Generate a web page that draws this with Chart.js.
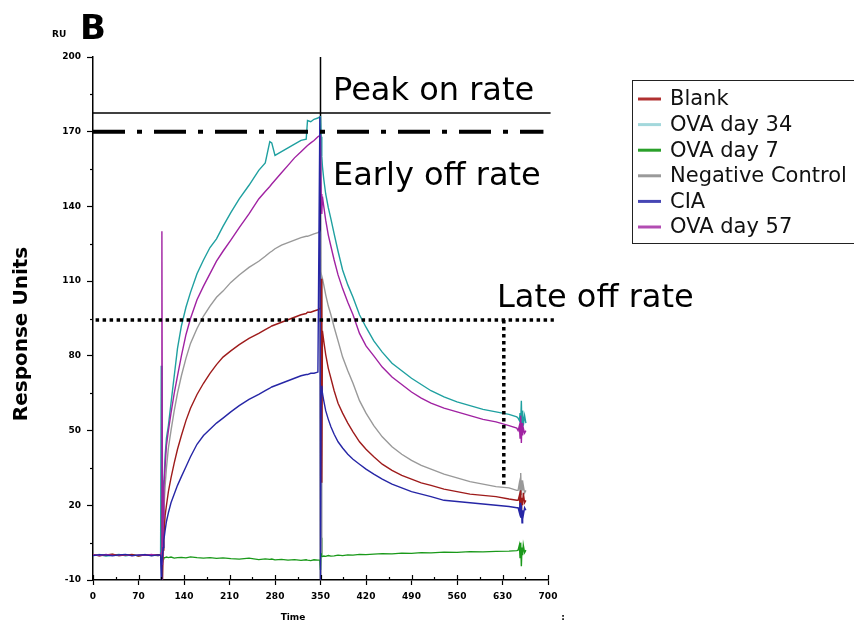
<!DOCTYPE html>
<html>
<head>
<meta charset="utf-8">
<script src="https://cdn.jsdelivr.net/npm/chart.js@4"></script>
<style>
	html, body { margin: 0; padding: 0; background: #fff; }
	canvas { display: block; }
</style>
</head>
<body>
<canvas id="spr" width="854" height="625"></canvas>
<script>
// Sensorgram data (time in s, response in RU)
var times = [
	0, 10, 20, 30, 40, 50, 60, 70, 80, 90, 100, 104,
	105, 106, 107, 108, 109, 111, 113,
	116, 120, 125, 130, 136, 143, 150, 160, 170, 180,
	190, 200, 212, 225, 240, 255, 265, 272, 275, 280,
	290, 300, 310, 320, 328, 330, 335, 340, 346, 349,
	350, 351, 352, 353, 355, 358, 362, 366, 371, 377,
	384, 392, 400, 410, 420, 432, 445, 460, 475, 490,
	505, 520, 540, 560, 580, 600, 620, 640, 652,
	654, 656, 657, 658, 659, 660, 661, 662, 664, 666
];

var blank = [
	0.2, -0.3, 0.1, 0.4, -0.2, 0, 0.3, -0.4, 0.1, -0.1, 0.2, 0,
	-1, -9, -10, 2, 8, 16, 20,
	25.5, 31, 37, 42.5, 48, 54, 59, 64.5, 69, 73,
	76.5, 79.5, 82, 84.5, 87, 89, 90.5, 91.5, 92, 92.5,
	93.5, 94.5, 95.5, 96.5, 97, 97.5, 97.5, 98, 98.5, 99,
	99, 111, 29, 90, 86, 80.5, 75, 71, 66, 61,
	57, 53, 49.5, 45.5, 42.5, 39.5, 36.5, 34, 32, 30.5,
	29, 28, 26.5, 25.5, 24.5, 24, 23.5, 22.5, 22,
	22, 24, 19, 26, 16, 23, 20, 25, 21, 22
];

var ova34 = [
	-0.2, 0.1, -0.4, 0, 0.3, -0.3, 0.1, -0.2, 0.2, -0.1, 0, 0.2,
	76, -9, 30, 8, 28, 40, 47,
	52, 61, 72, 83, 92, 99.5, 105.5, 113, 118.5, 123.5,
	127, 132, 137.5, 143, 148.5, 154.5, 157.5, 166, 165.5, 160.5,
	162, 163.5, 165, 166.5, 167, 174.5, 174, 175, 175.5, 176,
	176, 168, 160, 156, 151, 145, 139.5, 135, 129, 122,
	114.5, 108.5, 103.5, 96.5, 91.5, 86, 81.5, 77, 74, 71,
	68.5, 66, 63.5, 61.5, 60, 58.5, 57.5, 56.5, 55.5,
	55, 54, 57, 53, 62, 50, 58, 52, 56, 53
];

var ova7 = [
	0, -0.2, 0.1, 0.3, -0.1, 0, 0.2, -0.3, 0.1, 0, -0.2, 0,
	0, 22, -3, -1.5, -1, -1, -0.8,
	-1, -0.8, -1.2, -1, -0.9, -1.1, -0.7, -1, -1.2, -1,
	-1.3, -1.1, -1.4, -1.6, -1.2, -1.8, -1.5, -1.7, -1.6, -1.9,
	-1.7, -2, -1.8, -2.1, -1.9, -2, -2.2, -1.9, -2, -2,
	-6, 7, -0.5, -0.6, -0.4, -0.5, -0.2, -0.4, -0.3, 0,
	-0.2, 0.1, 0, 0.3, 0.2, 0.4, 0.6, 0.5, 0.8, 0.7,
	1, 0.9, 1.2, 1.1, 1.4, 1.3, 1.5, 1.6, 1.8,
	2, 4, -1, 5, -4.5, 3, 0, 4, 1, 2
];

var negControl = [
	0, 0.3, -0.2, 0.1, -0.3, 0.2, 0, -0.1, 0.3, -0.2, 0.1, 0,
	0, -6, 4, 10, 18, 28, 35,
	43, 50, 58, 65, 72, 79, 85, 91, 96, 100,
	103.5, 106, 109.5, 112.5, 115.5, 118, 120, 121.5, 122, 123,
	124.5, 125.5, 126.5, 127.5, 128, 128, 128.5, 129, 129.5, 130,
	129, 1, 112, 111, 108.5, 104.5, 100, 96.5, 91.5, 86,
	79.5, 74, 69, 62, 57, 52, 47.5, 43.5, 40.5, 38,
	36, 34.5, 32.5, 31, 29.5, 28.5, 27.5, 27, 26,
	26, 29, 25, 33, 24, 30, 26, 28, 25, 26
];

var cia = [
	-0.2, 0.2, 0, -0.3, 0.1, 0.3, -0.2, 0, 0.2, -0.3, 0.1, 0,
	-10, -3, 0, 3, 6, 10, 13.5,
	17, 21, 24.5, 28, 31.5, 35.5, 39.5, 44.5, 48, 50.5,
	53, 55, 57.5, 60, 62.5, 64.5, 66, 67, 67.5, 68,
	69, 70, 71, 72, 72.5, 72.5, 73, 73, 73.5, 176,
	-10, 66, 68, 65, 62, 58, 54.5, 51.5, 48.5, 45.5,
	43, 40.5, 38.5, 36.5, 34.5, 32.5, 30.5, 28.5, 27, 25.5,
	24.5, 23.5, 22, 21.5, 21, 20.5, 20, 19.5, 19,
	19, 17, 21, 15, 20, 13, 18, 16, 19, 18
];

var ova57 = [
	0.1, -0.2, 0.3, -0.1, 0, 0.2, -0.3, 0.1, -0.1, 0.3, -0.2, 0,
	1, 130, -4, 15, 27, 36, 44,
	50, 57, 65, 72, 80, 88.5, 95, 102.5, 108, 113,
	118, 122, 126.5, 131.5, 137, 143, 146, 148, 149, 150.5,
	153.5, 156.5, 159.5, 162, 164, 164.5, 165.5, 166.5, 168, 168.5,
	168.5, 145, 137, 144, 140, 134.5, 128.5, 124, 118.5, 112.5,
	107, 101.5, 96.5, 89, 84, 80, 75.5, 71.5, 68.5, 65.5,
	63, 61, 59, 57.5, 56, 54.5, 53.5, 52, 51,
	50, 52, 47, 56, 45, 53, 48, 51, 49, 50
];

var seriesNames = ['Blank', 'OVA day 34', 'OVA day 7', 'Negative Control', 'CIA', 'OVA day 57'];
var seriesValues = [blank, ova34, ova7, negControl, cia, ova57];
var lineColors = ['#9e1b1b', '#1fa0a0', '#1a991a', '#999999', '#2626a6', '#a022a2'];
var legendColors = ['#b03030', '#a3d8dc', '#2aa02a', '#9a9a9a', '#4646b4', '#b24cb2'];
var drawOrder = [3, 6, 5, 4, 1, 2];

// reference levels drawn on the sensorgram
var peakOnRate = 177.5;
var earlyOffRate = 170;
var lateOffRate = 94.4;
var injectionEnd = 350;
var lateOffTime = 632;
var lateOffLow = 27;

function toPoints(values) {
	return values.map(function (v, i) {
		return { x: times[i], y: v };
	});
}

var datasets = seriesValues.map(function (values, i) {
	return {
		label: seriesNames[i],
		data: toPoints(values),
		borderColor: lineColors[i],
		borderWidth: 1.4,
		pointRadius: 0,
		tension: 0,
		order: drawOrder[i]
	};
});

function refLine(points, width, dash, order) {
	return {
		label: '',
		data: points,
		borderColor: '#000',
		borderWidth: width,
		borderDash: dash,
		pointRadius: 0,
		tension: 0,
		clip: false,
		order: order
	};
}

datasets.push(refLine([{ x: injectionEnd, y: -10 }, { x: injectionEnd, y: 200 }], 1.5, [], 10));
datasets.push(refLine([{ x: 0, y: peakOnRate }, { x: 704, y: peakOnRate }], 1.5, [], 0));
datasets.push(refLine([{ x: 0, y: earlyOffRate }, { x: 693, y: earlyOffRate }], 4, [32, 12, 5, 12], 0));
datasets.push(refLine([{ x: 4, y: lateOffRate }, { x: 709, y: lateOffRate }], 3.5, [3.5, 3.5], 0));
datasets.push(refLine([{ x: lateOffTime, y: lateOffRate }, { x: lateOffTime, y: lateOffLow }], 3.5, [3.5, 3.5], 0));

var tickFont = { family: 'DejaVu Sans', size: 9, weight: 'bold' };

// extra text, minor ticks and the boxed legend
var decorPlugin = {
	id: 'decor',
	afterDraw: function (chart) {
		var ctx = chart.ctx;
		var xs = chart.scales.x;
		var ys = chart.scales.y;
		var i;
		ctx.save();

		ctx.strokeStyle = '#000';
		ctx.lineWidth = 1.2;
		xs.ticks.forEach(function (t, idx) {
			var px = Math.round(xs.getPixelForValue(t.value)) + 0.5;
			ctx.beginPath();
			ctx.moveTo(px, ys.bottom);
			ctx.lineTo(px, ys.bottom - (idx % 2 ? 3 : 5));
			ctx.stroke();
		});
		ys.ticks.forEach(function (t, idx) {
			if (idx % 2) {
				var py = Math.round(ys.getPixelForValue(t.value)) + 0.5;
				ctx.beginPath();
				ctx.moveTo(xs.left, py);
				ctx.lineTo(xs.left - 3, py);
				ctx.stroke();
			}
		});

		ctx.fillStyle = '#000';
		ctx.textBaseline = 'alphabetic';
		ctx.textAlign = 'left';
		ctx.font = 'bold 34px "DejaVu Sans"';
		ctx.fillText('B', 80, 39);
		ctx.font = 'bold 9px "DejaVu Sans"';
		ctx.fillText('RU', 52, 37);
		ctx.textAlign = 'center';
		ctx.fillText('Time', 293, 620);
		ctx.fillText(':', 563, 620);

		ctx.save();
		ctx.translate(27, 334);
		ctx.rotate(-Math.PI / 2);
		ctx.font = 'bold 20px "DejaVu Sans"';
		ctx.textAlign = 'center';
		ctx.fillText('Response Units', 0, 0);
		ctx.restore();

		ctx.textAlign = 'left';
		ctx.font = '32px "DejaVu Sans"';
		ctx.fillText('Peak on rate', 333, 100);
		ctx.fillText('Early off rate', 333, 185);
		ctx.fillText('Late off rate', 497, 307);

		// legend box
		ctx.strokeStyle = '#222';
		ctx.lineWidth = 1;
		ctx.strokeRect(632.5, 80.5, 240, 163);
		ctx.font = '21px "DejaVu Sans"';
		ctx.textBaseline = 'middle';
		for (i = 0; i < seriesNames.length; i++) {
			var ly = 99 + i * 25.6;
			ctx.strokeStyle = legendColors[i];
			ctx.lineWidth = 3;
			ctx.beginPath();
			ctx.moveTo(638, ly);
			ctx.lineTo(661, ly);
			ctx.stroke();
			ctx.fillStyle = '#111';
			ctx.fillText(seriesNames[i], 670, ly + 1);
		}
		ctx.restore();
	}
};

var config = {
	type: 'line',
	data: { datasets: datasets },
	options: {
		responsive: false,
		animation: false,
		devicePixelRatio: 1,
		layout: { padding: { left: 0, top: 57, right: 306, bottom: 0 } },
		plugins: {
			legend: { display: false },
			tooltip: { enabled: false },
			title: { display: false }
		},
		scales: {
			x: {
				type: 'linear',
				min: 0,
				max: 700,
				afterFit: function (scale) { scale.height = 45; },
				border: { display: true, color: '#000', width: 1.5 },
				grid: {
					drawOnChartArea: false,
					tickLength: 5,
					tickWidth: 1.2,
					tickColor: function (c) { return c.index % 2 ? 'rgba(0,0,0,0)' : '#000'; }
				},
				ticks: {
					stepSize: 35,
					autoSkip: false,
					maxRotation: 0,
					padding: 6,
					color: '#000',
					font: tickFont,
					callback: function (v, idx) { return idx % 2 ? '' : v; }
				}
			},
			y: {
				min: -10,
				max: 200,
				afterFit: function (scale) { scale.width = 93; },
				border: { display: true, color: '#000', width: 1.5 },
				grid: {
					drawOnChartArea: false,
					tickLength: 6,
					tickWidth: 1.2,
					tickColor: function (c) { return c.index % 2 ? 'rgba(0,0,0,0)' : '#000'; }
				},
				ticks: {
					stepSize: 15,
					autoSkip: false,
					padding: 6,
					color: '#000',
					font: tickFont,
					callback: function (v, idx) { return idx % 2 ? '' : v; }
				}
			}
		}
	},
	plugins: [decorPlugin]
};

var sprChart = new Chart(document.getElementById('spr'), config);
</script>
</body>
</html>
